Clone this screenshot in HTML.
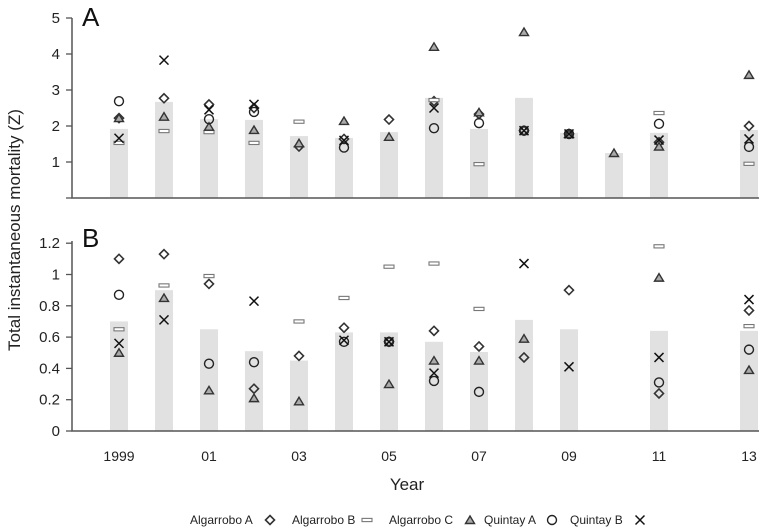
<!DOCTYPE html>
<html><head><meta charset="utf-8"><style>
html,body{margin:0;padding:0;background:#fff;}
svg{display:block;font-family:"Liberation Sans",Arial,sans-serif;}
</style></head><body>
<svg id="chart" width="760" height="527" viewBox="0 0 760 527"></svg>
<script>
const years = [1999,2000,2001,2002,2003,2004,2005,2006,2007,2008,2009,2010,2011,2012,2013];
const xTickLabels = ["1999",null,"01",null,"03",null,"05",null,"07",null,"09",null,"11",null,"13"];
const seriesNames = ["Algarrobo A","Algarrobo B","Algarrobo C","Quintay A","Quintay B"];
const seriesKeys = ["algarrobo-a","algarrobo-b","algarrobo-c","quintay-a","quintay-b"];
// Panel A
const barsA = [1.92,2.67,2.19,2.17,1.72,1.67,1.83,2.78,1.92,2.78,1.81,1.25,1.81,null,1.89];
const algAA = [2.22,2.77,2.6,2.5,1.43,1.64,2.18,2.69,2.33,1.87,1.78,null,1.55,null,2.0];
const algBA = [1.53,1.86,1.83,1.53,2.12,null,null,2.72,0.94,null,null,null,2.36,null,0.95];
const algCA = [2.22,2.26,1.98,1.89,1.52,2.14,1.7,4.2,2.38,4.61,1.78,1.25,1.43,null,3.42];
const quiAA = [2.69,null,2.19,2.39,null,1.4,null,1.94,2.08,1.87,1.78,null,2.06,null,1.42];
const quiBA = [1.66,3.83,2.45,2.6,null,1.6,null,2.5,null,1.87,1.78,null,1.61,null,1.64];
const yTicksA = [0,1,2,3,4,5];
const yLabelsA = ["","1","2","3","4","5"];
// Panel B
const barsB = [0.70,0.90,0.65,0.51,0.45,0.63,0.63,0.57,0.505,0.71,0.65,null,0.64,null,0.64];
const algAB = [1.10,1.13,0.94,0.27,0.48,0.66,0.57,0.64,0.54,0.47,0.90,null,0.24,null,0.77];
const algBB = [0.65,0.93,0.99,null,0.70,0.85,1.05,1.07,0.78,null,null,null,1.18,null,0.67];
const algCB = [0.50,0.85,0.26,0.21,0.19,null,0.30,0.45,0.45,0.59,null,null,0.98,null,0.39];
const quiAB = [0.87,null,0.43,0.44,null,0.57,0.57,0.32,0.25,null,null,null,0.31,null,0.52];
const quiBB = [0.56,0.71,null,0.83,null,0.58,0.57,0.37,null,1.07,0.41,null,0.47,null,0.84];
const yTicksB = [0,0.2,0.4,0.6,0.8,1.0,1.2];
const yLabelsB = ["0","0.2","0.4","0.6","0.8","1","1.2"];

const NS="http://www.w3.org/2000/svg";
const svg=document.getElementById('chart');
function mk(tag,attrs,parent){const e=document.createElementNS(NS,tag);for(const k in attrs)e.setAttribute(k,attrs[k]);(parent||svg).appendChild(e);return e;}
const xScale = y => 119 + (y-1999)*45;
const yA = v => 198 - v*36;
const yB = v => 431 - v*156.5;

function marker(kind,cx,cy,g){
  let e;
  if(kind===0){e=mk('path',{d:`M${cx} ${cy-4.5}L${cx+4.5} ${cy}L${cx} ${cy+4.5}L${cx-4.5} ${cy}Z`,fill:'none',stroke:'#333','stroke-width':1.6},g);}
  else if(kind===1){e=mk('rect',{x:cx-5,y:cy-1.6,width:10,height:3.2,fill:'#fff',stroke:'#777','stroke-width':1.1},g);}
  else if(kind===2){e=mk('path',{d:`M${cx} ${cy-4}L${cx+4.5} ${cy+3.5}L${cx-4.5} ${cy+3.5}Z`,fill:'#aaa',stroke:'#333','stroke-width':1.4},g);}
  else if(kind===3){e=mk('circle',{cx:cx,cy:cy,r:4.5,fill:'none',stroke:'#222','stroke-width':1.4},g);}
  else {e=mk('path',{d:`M${cx-4.5} ${cy-4.5}L${cx+4.5} ${cy+4.5}M${cx+4.5} ${cy-4.5}L${cx-4.5} ${cy+4.5}`,stroke:'#111','stroke-width':1.5,fill:'none'},g);}
  return e;
}

function panel(name,bars,series,yS,ticks,labels,axisTop,base,letter,letterY){
  const g=mk('g',{});
  
  
  bars.forEach((v,i)=>{ if(v==null) return;
    const r=mk('rect',{x:xScale(years[i])-9,y:yS(v),width:18,height:base-yS(v),fill:'#e1e1e1'},g);
    
    
  });
  series.forEach((arr,k)=>{arr.forEach((v,i)=>{ if(v==null) return;
    const m=marker(k,xScale(years[i]),yS(v),g);
    
    
  });});
  const ax=mk('path',{d:`M72 ${axisTop}L72 ${base}L759 ${base}`,stroke:'#555','stroke-width':1.5,fill:'none'},g);
  
  
  ticks.forEach((t,i)=>{
    const tk=mk('line',{x1:66,x2:72,y1:yS(t),y2:yS(t),stroke:'#555','stroke-width':1.3},g);
    
    
    if(labels[i]){
      const tx=mk('text',{x:60,y:yS(t)+5,'text-anchor':'end','font-size':15,fill:'#222'},g);
      tx.textContent=labels[i];
      
      
    }
  });
  const L=mk('text',{x:82,y:letterY,'font-size':26,fill:'#111'},g);
  L.textContent=letter;
  
  
}
panel('panel-a',barsA,[algAA,algBA,algCA,quiAA,quiBA],yA,yTicksA,yLabelsA,18,198,'A',26);
panel('panel-b',barsB,[algAB,algBB,algCB,quiAB,quiBB],yB,yTicksB,yLabelsB,241,431,'B',247);

xTickLabels.forEach((l,i)=>{ if(!l) return;
  const t=mk('text',{x:xScale(years[i]),y:461,'text-anchor':'middle','font-size':14,fill:'#222'});
  t.textContent=l;
  
  
});
const xt=mk('text',{x:407,y:490,'text-anchor':'middle','font-size':17,fill:'#222'});
xt.textContent='Year';


const yt=mk('text',{x:0,y:0,'text-anchor':'middle','font-size':17,fill:'#222',transform:'translate(20,230) rotate(-90)'});
yt.textContent='Total instantaneous mortality (Z)';



const legX=[190,292,389,484,570];
const legM=[270,367,470,552,640];
seriesNames.forEach((n,k)=>{
  const g=mk('g',{});
  
  
  const t=mk('text',{x:legX[k],y:524,'font-size':12,fill:'#222'},g);
  t.textContent=n;
  marker(k,legM[k],520,g);
});
</script>
</body></html>
